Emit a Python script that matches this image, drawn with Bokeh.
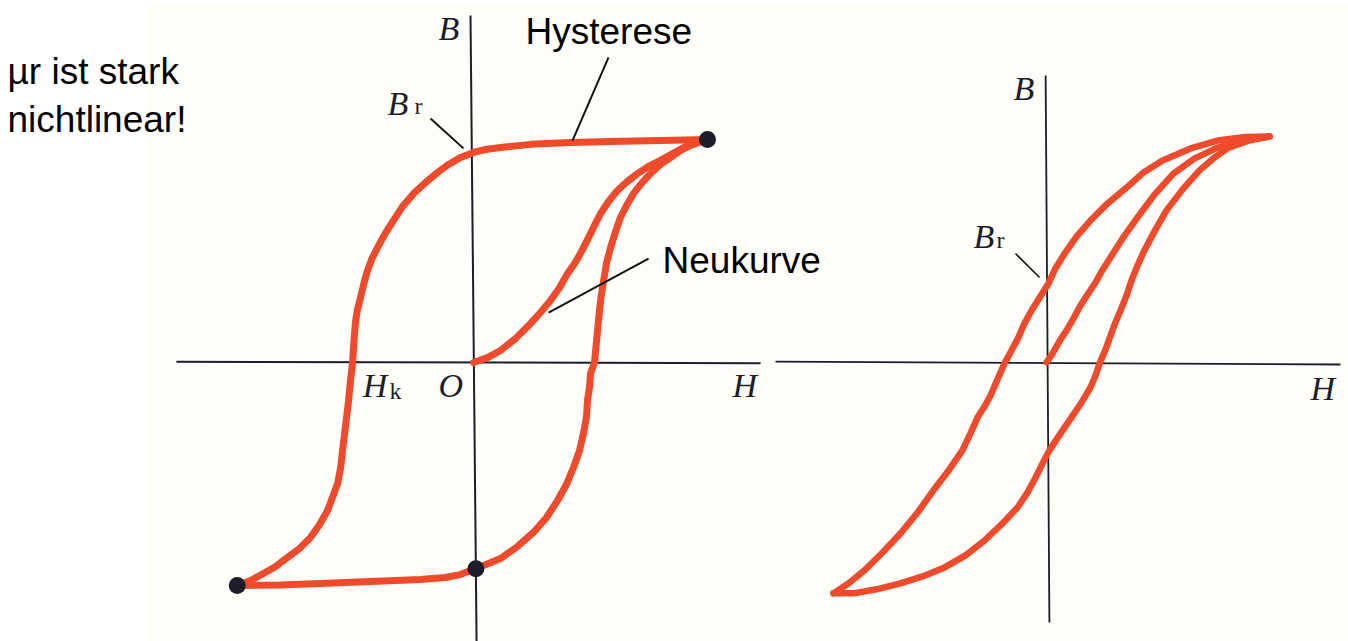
from bokeh.plotting import figure
from bokeh.models import Range1d
from bokeh.core.properties import value
from bokeh.embed import file_html
from bokeh.resources import INLINE

# ---- Left diagram: hard magnetic loop (H and B scaled so that saturation = 100) ----
left_desc_h = [100, 90.6, 79.9, 58.6, 41.5, 24.4, 11.5, 5.1, 0, -5.6, -10.7, -15.4, -20.5,
               -25.6, -30.3, -34.2, -38.0, -41.0, -43.6, -45.3, -47.0, -48.3, -49.6, -50.4,
               -50.9, -51.3, -51.7, -52.6, -53.4, -54.7, -56.0, -56.8, -58.1, -60.3, -62.4,
               -65.8, -69.7, -74.4, -79.5, -84.6, -89.8, -95.3, -101]
left_desc_b = [100, 99.8, 99.5, 99.1, 98.6, 97.8, 96.4, 95.5, 94.2, 91.9, 88.8, 85.2, 80.7,
               75.8, 70.0, 63.7, 57.4, 51.6, 46.2, 41.3, 35.0, 29.1, 23.8, 18.8,
               12.6, 6.7, 0, -8.1, -17.0, -28.2, -39.5, -47.1, -54.3, -60.5, -66.4,
               -72.6, -78.5, -83.4, -87.4, -91.5, -94.6, -97.8, -100]

left_asc_h = [-101, -82.5, -65.4, -44.0, -22.7, -12.0, -5.6, 0.9, 6.4, 11.5, 18.8, 25.6, 31.2,
              35.9, 39.7, 42.7, 45.3, 47.0, 48.3, 48.7, 49.6, 50.0, 51.7, 52.6, 53.4, 54.3,
              55.6, 56.8, 58.6, 60.7, 62.8, 65.4, 68.4, 71.8, 75.6, 79.9, 84.2, 88.5, 92.7,
              96.2, 100]
left_asc_b = [-100, -99.8, -99.1, -98.2, -97.3, -96.4, -95.1, -92.4, -90.1, -87.9, -82.5, -76.2,
              -69.5, -61.9, -54.7, -47.1, -39.5, -31.8, -24.2, -17.0, -10.8, -4.9, 0, 9.9, 18.8,
              27.8, 36.8, 44.4, 51.6, 58.7, 65.0, 70.4, 75.8, 80.3, 84.7, 88.8, 91.9, 95.1, 97.3,
              98.6, 100]

left_virgin_h = [0, 6.0, 11.5, 18.0, 24.4, 28.6, 32.9, 36.8, 40.2, 43.2, 45.7, 47.9, 50.0, 52.1,
                 54.3, 57.7, 61.5, 65.8, 70.1, 74.8, 79.9, 85.1, 89.8, 94.9, 100]
left_virgin_b = [0, 2.2, 5.4, 10.8, 17.5, 22.4, 27.8, 33.6, 39.9, 44.4, 48.9, 53.4, 57.8, 62.3,
                 66.8, 72.2, 77.1, 81.2, 84.7, 87.9, 90.6, 93.7, 96.4, 98.6, 100]

left_marker_h = [100, -101, 1]
left_marker_b = [100, -100, -92.5]

# ---- Right diagram: soft magnetic loop ----
right_desc_h = [100, 89.2, 76.7, 64.6, 52.0, 43.5, 35.9, 27.4, 19.7, 13.5, 8.1, 4.0, 0.9, -3.1,
                -6.7, -9.9, -12.6, -15.7, -18.8, -22.0, -25.1, -27.8, -30.9, -34.1, -37.7,
                -43.9, -50.7, -57.8, -65.5, -73.5, -81.6, -88.8, -95.5]
right_desc_b = [100, 99.8, 98.2, 94.7, 89.4, 84.1, 77.4, 70.4, 62.8, 55.8, 48.2, 41.6, 35.0, 28.8,
                23.0, 17.3, 11.1, 5.3, -0.4, -7.5, -14.6, -19.5, -24.3, -31.4, -38.9,
                -47.8, -56.6, -66.4, -75.7, -84.1, -92.0, -97.8, -102.2]

right_asc_h = [-95.5, -86.5, -76.2, -65.5, -55.6, -45.7, -36.3, -27.8, -20.2, -13.0, -8.5, -4.9,
               -1.8, 1.3, 6.3, 11.2, 15.7, 19.7, 22.0, 23.8, 26.5, 28.7, 30.9, 33.2, 35.9, 38.1,
               40.8, 43.9, 48.9, 53.8, 61.0, 68.6, 75.3, 81.6, 90.6, 100]
right_asc_b = [-102.2, -102.2, -100.4, -97.8, -94.7, -90.7, -85.4, -78.8, -71.7, -64.2, -57.5,
               -50.9, -44.7, -38.9, -31.4, -24.3, -17.7, -11.1, -5.8, -0.4, 5.8, 11.9, 17.7, 23.0,
               29.6, 36.3, 42.9, 49.6, 58.9, 67.3, 76.6, 85.0, 90.7, 95.1, 98.2, 100]

right_virgin_h = [0, 2.2, 4.0, 6.3, 9.0, 12.1, 15.2, 18.4, 22.0, 24.7, 27.8, 34.1, 40.8, 48.4,
                  56.9, 66.4, 76.7, 88.3, 100]
right_virgin_b = [0, 3.1, 6.2, 10.2, 14.2, 19.5, 25.2, 30.1, 35.4, 40.3, 45.1, 54.9, 64.2, 74.3,
                  83.6, 90.3, 95.1, 98.2, 100]

CURVE = "#ef4a2b"
INK = "#1d1d2b"

p = figure(width=1348, height=641, output_backend="svg", toolbar_location=None,
           x_range=Range1d(-202.2, 374.0), y_range=Range1d(-125.1, 162.3),
           x_axis_location=None, y_axis_location=None, min_border=0,
           background_fill_color="white", border_fill_color="white")
p.outline_line_color = None
p.grid.visible = False
p.extra_x_ranges = {"r": Range1d(-469.0, 135.4)}
p.extra_y_ranges = {"r": Range1d(-123.5, 160.2)}

# printed page area
p.quad(left=[-139], right=[374], bottom=[-126], top=[160.5],
       fill_color="#fefdf7", line_color=None)

serif = value("Liberation Serif")
sans = value("Liberation Sans")

# ---- left diagram ----
p.segment(x0=[-127, -1.3], y0=[0.3, 155.6], x1=[122.7, 1.3], y1=[-0.3, -125.5],
          line_color=INK, line_width=2)
for hs, bs in [(left_desc_h, left_desc_b), (left_asc_h, left_asc_b), (left_virgin_h, left_virgin_b)]:
    p.line(hs, bs, line_color=CURVE, line_width=7, line_cap="round", line_join="round")
p.scatter(left_marker_h, left_marker_b, size=17, fill_color=INK, line_color=None)

# leader lines
p.segment(x0=[57.7, 74.8, -18.4], y0=[136.8, 46.6, 109.4],
          x1=[42.3, 32.1, -4.3], y1=[99.5, 22.4, 96.0], line_color="#111111", line_width=2)

p.text(x=[-15.0, -36.8, -47.4, -15.0, 110.7], y=[149.8, 116.2, -10.3, -10.3, -10.3],
       text=["B", "B", "H", "O", "H"], text_font=serif, text_font_style="italic",
       text_font_size="34px", text_color=INK, text_baseline="alphabetic", text_align="left")
p.text(x=[-25.2, -35.9], y=[114.8, -13.0], text=["r", "k"], text_font=serif,
       text_font_size="24px", text_color=INK, text_baseline="alphabetic", text_align="left")

p.text(x=[-199.2, -199.2, 22.2, 80.8], y=[130.5, 109.0, 148.4, 45.8],
       text=["µr ist stark", "nichtlinear!", "Hysterese", "Neukurve"],
       text_font=sans, text_font_size="37px", text_color="#000000",
       text_baseline="alphabetic", text_align="left")

# ---- right diagram ----
p.segment(x0=[-121.5, -0.4], y0=[0.4, 127.0], x1=[131.8, 1.3], y1=[-0.9, -115.1],
          line_color=INK, line_width=1.8, x_range_name="r", y_range_name="r")
for hs, bs in [(right_desc_h, right_desc_b), (right_asc_h, right_asc_b), (right_virgin_h, right_virgin_b)]:
    p.line(hs, bs, line_color=CURVE, line_width=6.5, line_cap="round", line_join="round",
           x_range_name="r", y_range_name="r")
p.segment(x0=[-13.9], y0=[48.2], x1=[-3.1], y1=[37.6], line_color="#111111", line_width=1.6,
          x_range_name="r", y_range_name="r")
p.text(x=[-14.8, -32.7, 118.4], y=[121.2, 55.7, -11.5], text=["B", "B", "H"],
       text_font=serif, text_font_style="italic", text_font_size="34px", text_color=INK,
       text_baseline="alphabetic", text_align="left", x_range_name="r", y_range_name="r")
p.text(x=[-22.4], y=[54.0], text=["r"], text_font=serif, text_font_size="24px", text_color=INK,
       text_baseline="alphabetic", text_align="left", x_range_name="r", y_range_name="r")

open("out.html", "w").write(file_html(p, INLINE))
